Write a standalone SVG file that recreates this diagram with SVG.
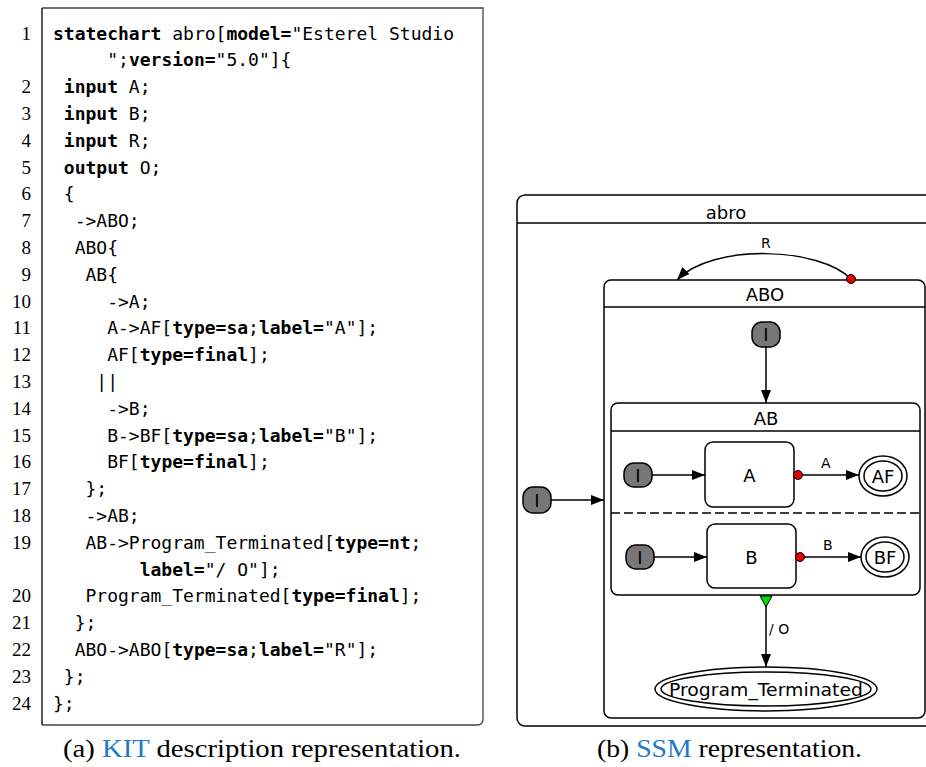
<svg xmlns="http://www.w3.org/2000/svg" width="926" height="767" viewBox="0 0 926 767">
<style>
.code{font-family:"DejaVu Sans Mono","Liberation Mono",monospace;font-size:18px;fill:#000}
.b{font-weight:bold}
.ln{font-family:"Liberation Serif","DejaVu Serif",serif;font-size:19px;fill:#000;text-anchor:end}
.cap{font-family:"Liberation Serif","DejaVu Serif",serif;font-size:26px;fill:#000}
.kw{fill:#1f7ac6}
.st{fill:#fff;stroke:#000;stroke-width:1.5}
.hdr{stroke:#000;stroke-width:1.5}
.t{font-family:"DejaVu Sans","Liberation Sans",sans-serif;font-size:18px;fill:#000;text-anchor:middle}
.tl{font-family:"DejaVu Sans","Liberation Sans",sans-serif;font-size:14px;fill:#000}
.init{fill:#777;stroke:#000;stroke-width:1.5}
.edge{fill:none;stroke:#000;stroke-width:1.5}
.dot{fill:#e00000;stroke:#000;stroke-width:1}
.fin{fill:none;stroke:#000;stroke-width:1.5}
</style>
<defs>
<marker id="arr" markerUnits="userSpaceOnUse" markerWidth="14" markerHeight="10" refX="13" refY="5" orient="auto">
<path d="M0,0 L13,5 L0,10 Z" fill="#000"/>
</marker>
</defs>

<g id="listing">
<path d="M42,8 H483 V719 Q483,725 477,725 H42" fill="none" stroke="#444" stroke-width="1.3"/>
<line x1="42" y1="8" x2="42" y2="725" stroke="#000" stroke-width="1.3"/>
<g class="ln">
<text x="31" y="39.5">1</text>
<text x="31" y="93.1">2</text>
<text x="31" y="119.9">3</text>
<text x="31" y="146.7">4</text>
<text x="31" y="173.5">5</text>
<text x="31" y="200.3">6</text>
<text x="31" y="227.1">7</text>
<text x="31" y="253.9">8</text>
<text x="31" y="280.7">9</text>
<text x="31" y="307.5">10</text>
<text x="31" y="334.3">11</text>
<text x="31" y="361.1">12</text>
<text x="31" y="387.9">13</text>
<text x="31" y="414.7">14</text>
<text x="31" y="441.5">15</text>
<text x="31" y="468.3">16</text>
<text x="31" y="495.1">17</text>
<text x="31" y="521.9">18</text>
<text x="31" y="548.7">19</text>
<text x="31" y="602.3">20</text>
<text x="31" y="629.1">21</text>
<text x="31" y="655.9">22</text>
<text x="31" y="682.7">23</text>
<text x="31" y="709.5">24</text>
</g>
<g class="code">
<text x="53" y="39.5"><tspan class="b">statechart</tspan> abro[<tspan class="b">model=</tspan>"Esterel Studio</text>
<text x="107.2" y="66.3">";<tspan class="b">version=</tspan>"5.0"]{</text>
<text x="63.8" y="93.1"><tspan class="b">input</tspan> A;</text>
<text x="63.8" y="119.9"><tspan class="b">input</tspan> B;</text>
<text x="63.8" y="146.7"><tspan class="b">input</tspan> R;</text>
<text x="63.8" y="173.5"><tspan class="b">output</tspan> O;</text>
<text x="63.8" y="200.3">{</text>
<text x="74.7" y="227.1">-&gt;ABO;</text>
<text x="74.7" y="253.9">ABO{</text>
<text x="85.5" y="280.7">AB{</text>
<text x="107.2" y="307.5">-&gt;A;</text>
<text x="107.2" y="334.3">A-&gt;AF[<tspan class="b">type=sa</tspan>;<tspan class="b">label=</tspan>"A"];</text>
<text x="107.2" y="361.1">AF[<tspan class="b">type=final</tspan>];</text>
<text x="96.3" y="387.9">||</text>
<text x="107.2" y="414.7">-&gt;B;</text>
<text x="107.2" y="441.5">B-&gt;BF[<tspan class="b">type=sa</tspan>;<tspan class="b">label=</tspan>"B"];</text>
<text x="107.2" y="468.3">BF[<tspan class="b">type=final</tspan>];</text>
<text x="85.5" y="495.1">};</text>
<text x="85.5" y="521.9">-&gt;AB;</text>
<text x="85.5" y="548.7">AB-&gt;Program_Terminated[<tspan class="b">type=nt</tspan>;</text>
<text x="139.7" y="575.5"><tspan class="b">label=</tspan>"/ O"];</text>
<text x="85.5" y="602.3">Program_Terminated[<tspan class="b">type=final</tspan>];</text>
<text x="74.7" y="629.1">};</text>
<text x="74.7" y="655.9">ABO-&gt;ABO[<tspan class="b">type=sa</tspan>;<tspan class="b">label=</tspan>"R"];</text>
<text x="63.8" y="682.7">};</text>
<text x="53" y="709.5">};</text>
</g>
<text class="cap" x="63" y="757" textLength="398" lengthAdjust="spacingAndGlyphs">(a) <tspan class="kw">KIT</tspan> description representation.</text>
</g>

<g id="abro">
<rect class="st" x="517" y="195" width="420" height="531" rx="8"/>
<line class="hdr" x1="517" y1="223" x2="926" y2="223"/>
<text class="t" x="726" y="218.5">abro</text>
</g>
<g id="abro_init">
<rect class="init" x="523" y="487" width="28" height="26" rx="10"/>
<text class="t" x="537" y="506.5">I</text>
</g>
<g id="ABO">
<rect class="st" x="604" y="280" width="321" height="438" rx="7"/>
<line class="hdr" x1="604" y1="307" x2="925" y2="307"/>
<text class="t" x="765" y="300.5">ABO</text>
</g>
<g id="ABO_init">
<rect class="init" x="752" y="322" width="28" height="25" rx="10"/>
<text class="t" x="766" y="341">I</text>
</g>
<g id="AB">
<rect class="st" x="611" y="403" width="309" height="192" rx="7"/>
<line class="hdr" x1="611" y1="431" x2="920" y2="431"/>
<text class="t" x="766" y="424.5">AB</text>
<line x1="611" y1="513" x2="920" y2="513" stroke="#000" stroke-width="1.5" stroke-dasharray="9,4"/>
</g>
<g id="A_init">
<rect class="init" x="624" y="463" width="28" height="24" rx="10"/>
<text class="t" x="638" y="481.5">I</text>
</g>
<g id="A">
<rect class="st" x="705" y="442" width="89" height="65" rx="8"/>
<text class="t" x="749.5" y="482">A</text>
</g>
<g id="AF">
<ellipse class="fin" cx="883" cy="476" rx="24" ry="20"/>
<ellipse class="fin" cx="883" cy="476" rx="19" ry="15"/>
<text class="t" x="883" y="482.5">AF</text>
</g>
<g id="B_init">
<rect class="init" x="626" y="545" width="28" height="24" rx="10"/>
<text class="t" x="640" y="563.5">I</text>
</g>
<g id="B">
<rect class="st" x="707" y="524" width="89" height="64" rx="8"/>
<text class="t" x="751.5" y="563.5">B</text>
</g>
<g id="BF">
<ellipse class="fin" cx="885" cy="557" rx="24" ry="20"/>
<ellipse class="fin" cx="885" cy="557" rx="19" ry="15"/>
<text class="t" x="885" y="563.5">BF</text>
</g>
<g id="Program_Terminated">
<ellipse class="fin" cx="766" cy="689" rx="111" ry="22"/>
<ellipse class="fin" cx="766" cy="689" rx="105" ry="17"/>
<text class="t" x="766" y="695.5" textLength="194" lengthAdjust="spacingAndGlyphs">Program_Terminated</text>
</g>

<g id="connectors">
<path class="edge" d="M851,279 C820,247 712,243 677,280" marker-end="url(#arr)"/>
<circle class="dot" cx="851" cy="279" r="4.5"/>
<text class="tl" x="761" y="248">R</text>
<line class="edge" x1="551" y1="500" x2="604" y2="500" marker-end="url(#arr)"/>
<line class="edge" x1="766" y1="347" x2="766" y2="403" marker-end="url(#arr)"/>
<line class="edge" x1="652" y1="475" x2="705" y2="475" marker-end="url(#arr)"/>
<line class="edge" x1="802" y1="475" x2="859" y2="475" marker-end="url(#arr)"/>
<circle class="dot" cx="798" cy="475" r="4.5"/>
<text class="tl" x="821" y="468">A</text>
<line class="edge" x1="654" y1="557" x2="707" y2="557" marker-end="url(#arr)"/>
<line class="edge" x1="804" y1="557" x2="861" y2="557" marker-end="url(#arr)"/>
<circle class="dot" cx="800" cy="557" r="4.5"/>
<text class="tl" x="823" y="550">B</text>
<line class="edge" x1="766" y1="597" x2="766" y2="667" marker-end="url(#arr)"/>
<polygon points="760,596 772,596 766,607" fill="#00dd00" stroke="#000" stroke-width="1"/>
<text class="tl" x="769" y="634">/ O</text>
</g>
<text class="cap" x="597" y="757" textLength="265" lengthAdjust="spacingAndGlyphs">(b) <tspan class="kw">SSM</tspan> representation.</text>
</svg>
